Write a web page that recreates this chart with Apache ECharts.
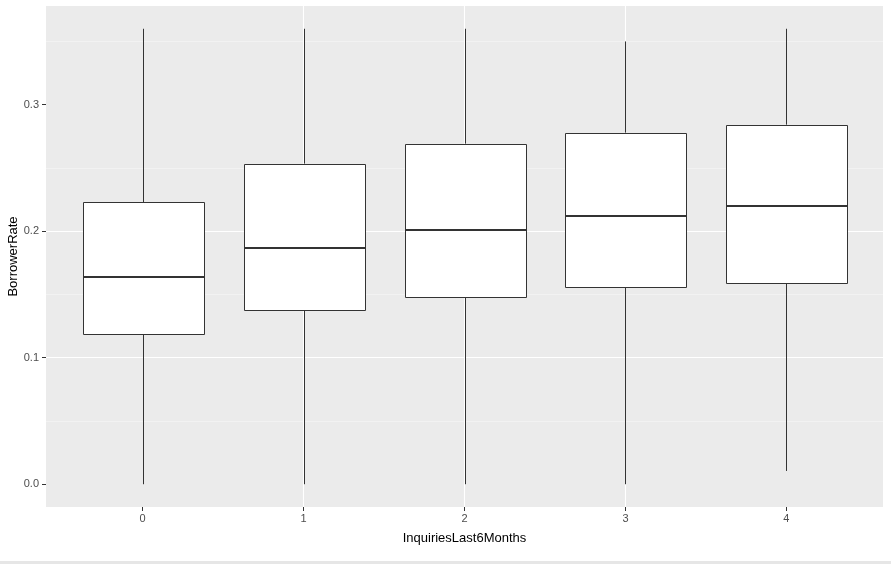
<!DOCTYPE html>
<html>
<head>
<meta charset="utf-8">
<script src="https://cdn.jsdelivr.net/npm/echarts@6/dist/echarts.min.js"></script>
<style>
html, body { margin: 0; padding: 0; background: #fff; }
#chart { width: 891px; height: 564px; }
</style>
</head>
<body>
<div id="chart"></div>
<script>
// Data
var categories = [0, 1, 2, 3, 4];
var lowerWhisker = [0.0, 0.0, 0.0, 0.0, 0.0105];
var q1Values = [0.1188, 0.1378, 0.1483, 0.1562, 0.1591];
var medianValues = [0.1636, 0.1869, 0.2008, 0.2124, 0.2198];
var q3Values = [0.2230, 0.2534, 0.2692, 0.2779, 0.2842];
var upperWhisker = [0.36, 0.36, 0.36, 0.35, 0.36];
var yTickValues = [0.0, 0.1, 0.2, 0.3];

var boxData = categories.map(function (c, i) {
  return [c, lowerWhisker[i], q1Values[i], medianValues[i], q3Values[i], upperWhisker[i]];
});

var chart = echarts.init(document.getElementById('chart'), null, { renderer: 'canvas' });
var font = '"Liberation Sans", Arial, sans-serif';

function renderBox(params, api) {
  var x = api.value(0);
  var pLo = api.coord([x, api.value(1)]);
  var pQ1 = api.coord([x, api.value(2)]);
  var pMed = api.coord([x, api.value(3)]);
  var pQ3 = api.coord([x, api.value(4)]);
  var pHi = api.coord([x, api.value(5)]);
  var halfW = api.size([0.75, 0])[0] / 2;
  var cx = Math.round(pQ1[0]) + 0.5;
  var left = Math.round(cx - halfW) + 0.5;
  var right = Math.round(cx + halfW) + 0.5;
  var stroke = '#333333';
  return {
    type: 'group',
    children: [
      { type: 'line', shape: { x1: cx, y1: pHi[1], x2: cx, y2: pQ3[1] }, style: { stroke: stroke, lineWidth: 1 } },
      { type: 'line', shape: { x1: cx, y1: pQ1[1], x2: cx, y2: pLo[1] }, style: { stroke: stroke, lineWidth: 1 } },
      { type: 'rect', shape: { x: left, y: Math.round(pQ3[1]) + 0.5, width: right - left, height: Math.round(pQ1[1]) - Math.round(pQ3[1]) },
        style: { fill: '#ffffff', stroke: stroke, lineWidth: 1 } },
      { type: 'line', shape: { x1: left, y1: Math.round(pMed[1]), x2: right, y2: Math.round(pMed[1]) }, style: { stroke: stroke, lineWidth: 2 } }
    ]
  };
}

chart.setOption({
  animation: false,
  backgroundColor: '#ffffff',
  grid: {
    left: 46, right: 8, top: 6, bottom: 57,
    containLabel: false,
    outerBoundsMode: 'none',
    show: true, backgroundColor: '#EBEBEB', borderWidth: 0
  },
  xAxis: {
    type: 'value',
    min: -0.6, max: 4.6,
    minInterval: 1, maxInterval: 1, splitNumber: 5,
    name: 'InquiriesLast6Months',
    nameLocation: 'middle',
    nameGap: 25,
    nameMoveOverlap: false,
    nameTextStyle: { color: '#000000', fontSize: 13, fontFamily: font },
    axisLine: { show: false, onZero: false },
    axisTick: { show: true, inside: false, length: 4, lineStyle: { color: '#333333', width: 1 }, customValues: categories },
    axisLabel: { color: '#4D4D4D', fontSize: 11, fontFamily: font, margin: 6, customValues: categories,
      formatter: function (v) { return String(Math.round(v)); } },
    splitLine: { show: true, showMinLine: false, showMaxLine: false, lineStyle: { color: '#ffffff', width: 1.1 } }
  },
  yAxis: {
    type: 'value',
    min: -0.018, max: 0.378,
    minInterval: 0.1, maxInterval: 0.1, splitNumber: 4,
    name: 'BorrowerRate',
    nameLocation: 'middle',
    nameGap: 26,
    nameMoveOverlap: false,
    nameTextStyle: { color: '#000000', fontSize: 13, fontFamily: font },
    axisLine: { show: false, onZero: false },
    axisTick: { show: true, inside: false, length: 4, lineStyle: { color: '#333333', width: 1 }, customValues: yTickValues },
    axisLabel: { color: '#4D4D4D', fontSize: 11, fontFamily: font, margin: 7, customValues: yTickValues,
      formatter: function (v) { return v.toFixed(1); } },
    splitLine: { show: true, showMinLine: false, showMaxLine: false, lineStyle: { color: '#ffffff', width: 1.1 } },
    minorTick: { show: false, splitNumber: 2 },
    minorSplitLine: { show: true, lineStyle: { color: '#F7F7F7', width: 0.6 } }
  },
  series: [{
    type: 'custom',
    renderItem: renderBox,
    data: boxData,
    encode: { x: 0, y: [1, 2, 3, 4, 5] },
    clip: false
  }],
  graphic: [{
    type: 'rect', left: 0, top: 561, shape: { width: 891, height: 3 },
    style: { fill: '#E6E6E6' }, silent: true
  }]
});
</script>
</body>
</html>
